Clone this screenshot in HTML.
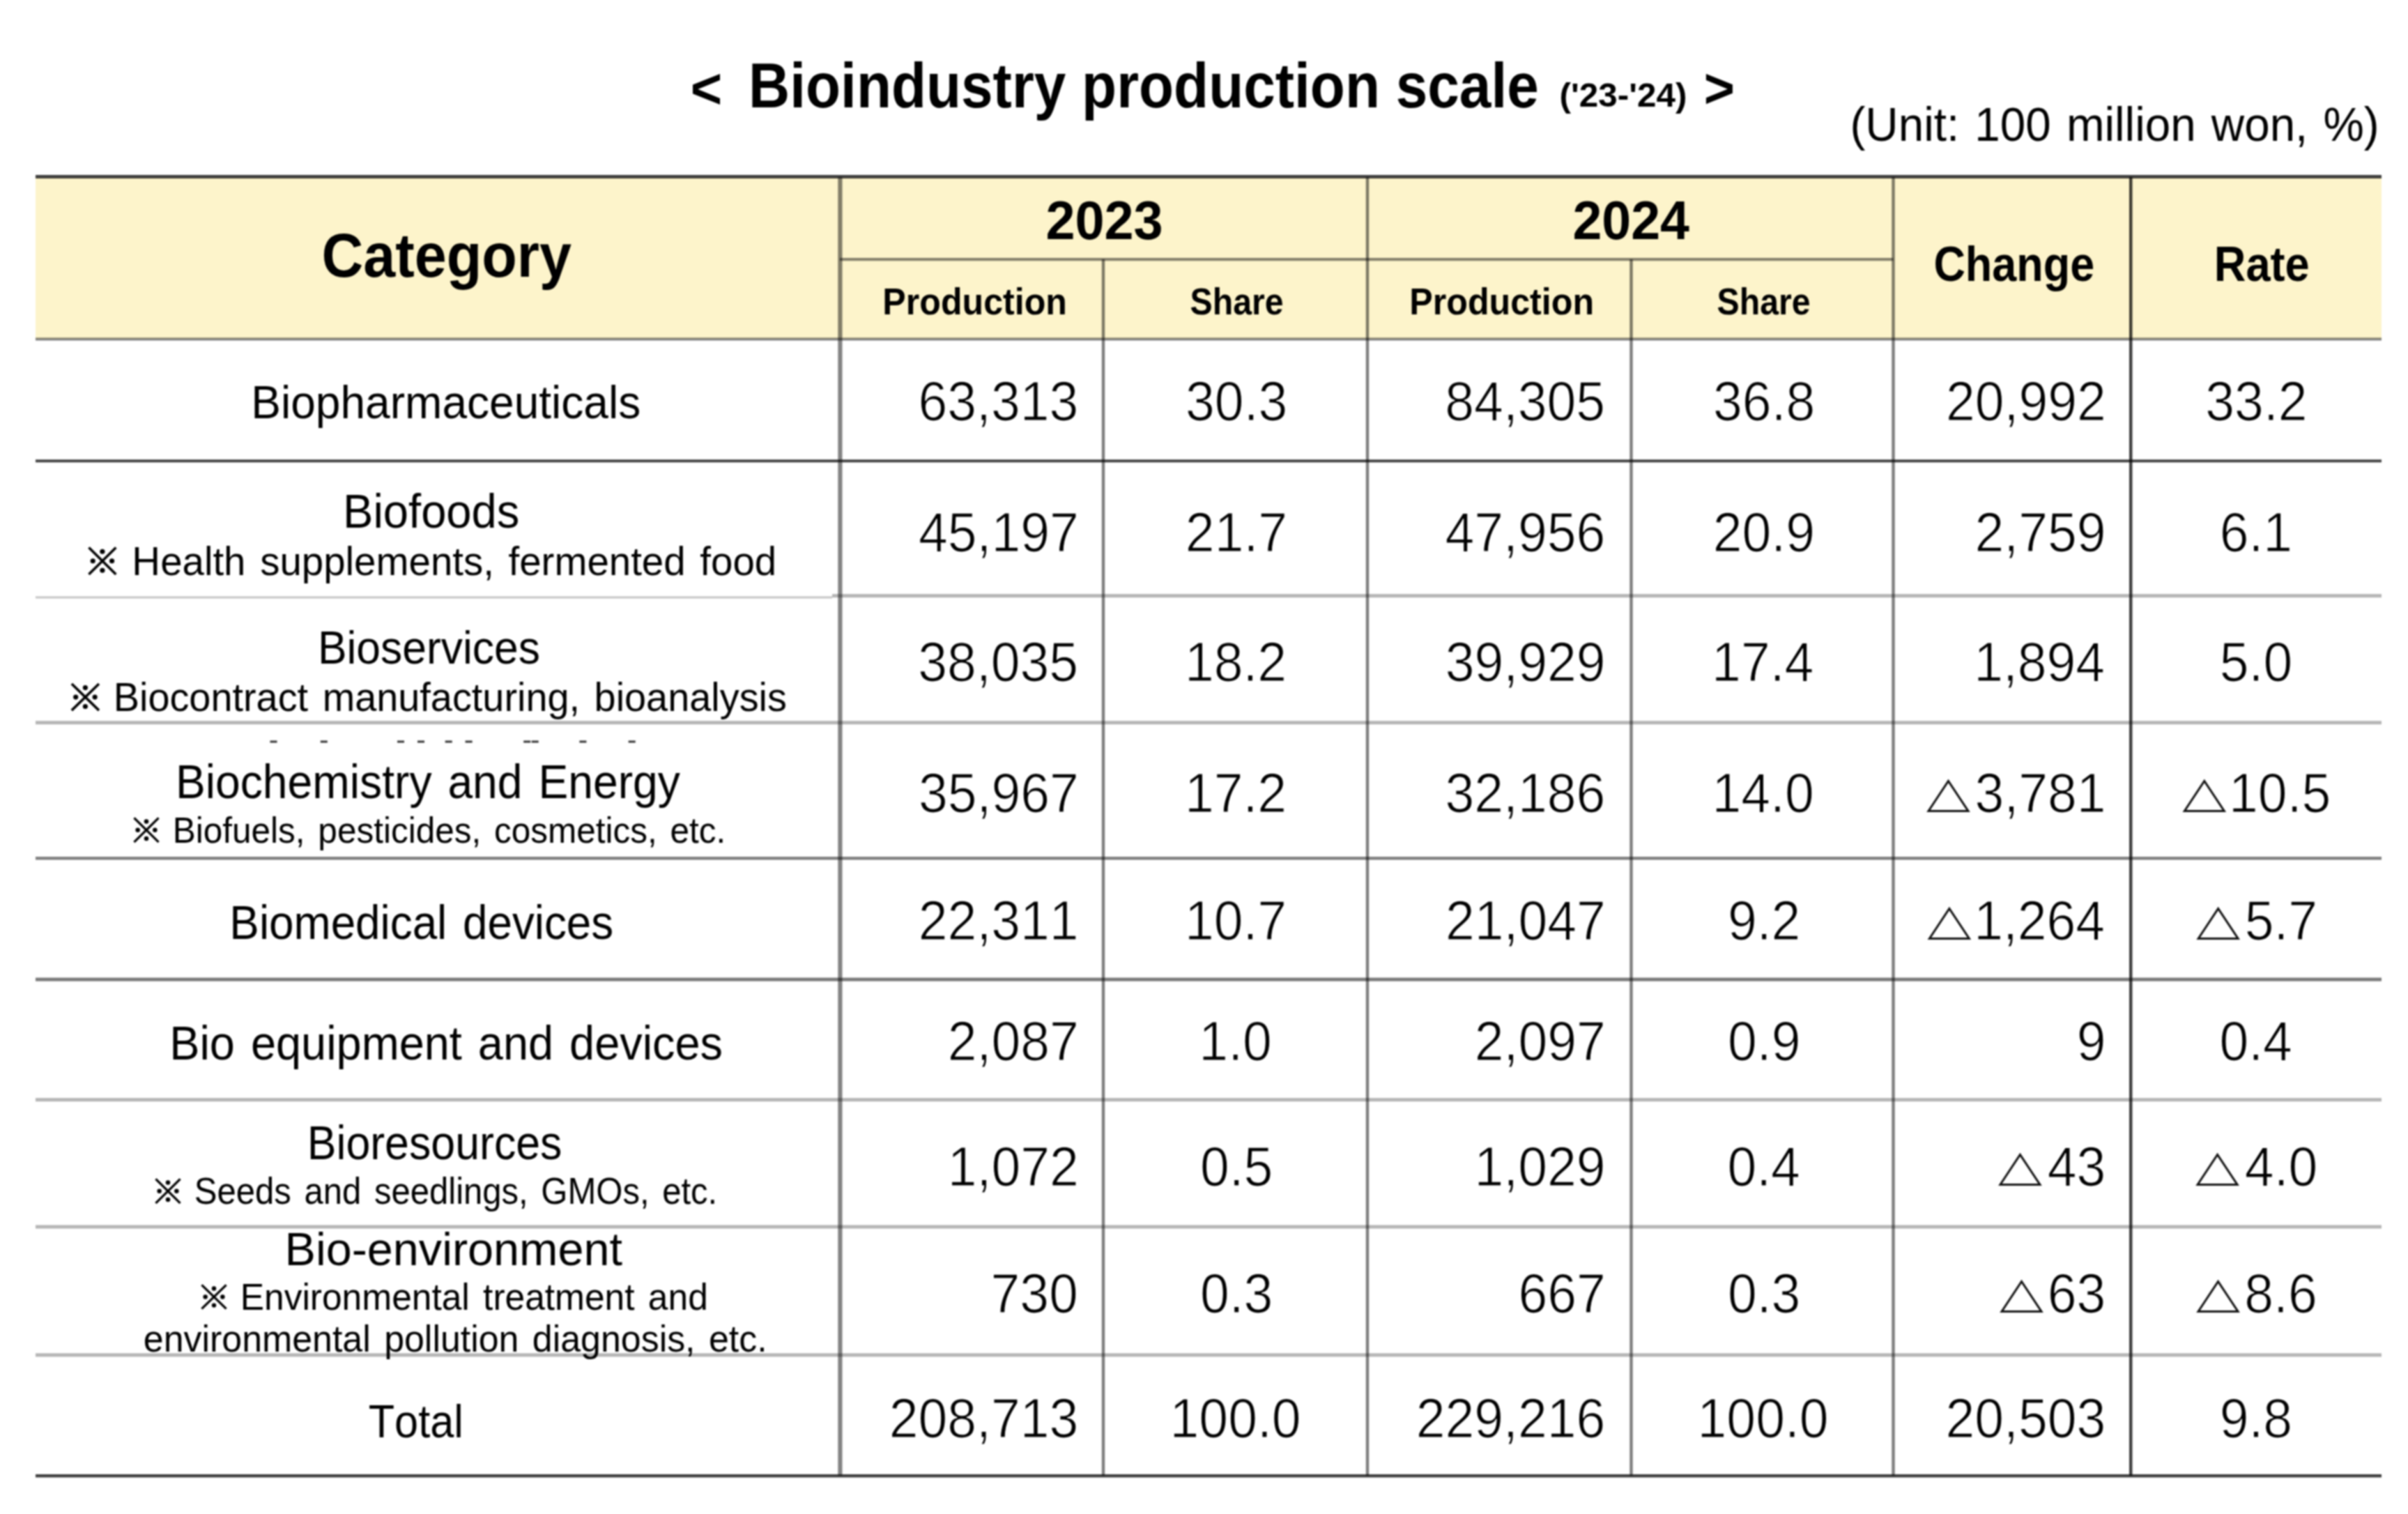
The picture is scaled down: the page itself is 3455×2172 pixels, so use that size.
<!DOCTYPE html>
<html><head><meta charset="utf-8"><title>Bioindustry production scale</title>
<style>
html,body{margin:0;padding:0;background:#fff;}
svg{display:block;filter:blur(0.9px);}
.m{mix-blend-mode:multiply;}
text{font-family:"Liberation Sans",sans-serif;fill:#000;font-kerning:none;font-variant-ligatures:none;}
</style></head><body>
<svg width="3455" height="2172" viewBox="0 0 3455 2172">
<rect x="0" y="0" width="3455" height="2172" fill="#fff"/>
<rect x="51.00" y="255.00" width="3366.00" height="231.00" fill="#fdf4cb"/>
<rect class="m" x="51.00" y="251.00" width="3366.00" height="5.00" fill="#404040"/>
<rect class="m" x="1205.00" y="370.00" width="1511.50" height="4.20" fill="#878787"/>
<rect class="m" x="51.00" y="484.50" width="3366.00" height="4.00" fill="#848484"/>
<rect class="m" x="51.00" y="659.30" width="3366.00" height="4.00" fill="#414141"/>
<rect class="m" x="51.00" y="855.50" width="1143.00" height="3.00" fill="#c4c4c4"/>
<rect class="m" x="1194.00" y="852.20" width="2223.00" height="5.00" fill="#b5b5b5"/>
<rect class="m" x="51.00" y="1034.20" width="3366.00" height="5.00" fill="#b5b5b5"/>
<rect class="m" x="51.00" y="1229.10" width="3366.00" height="4.40" fill="#7e7e7e"/>
<rect class="m" x="51.00" y="1402.60" width="3366.00" height="5.00" fill="#7a7a7a"/>
<rect class="m" x="51.00" y="1575.20" width="3366.00" height="5.00" fill="#b5b5b5"/>
<rect class="m" x="51.00" y="1757.50" width="3366.00" height="5.00" fill="#b5b5b5"/>
<rect class="m" x="51.00" y="1941.40" width="3366.00" height="5.00" fill="#b5b5b5"/>
<rect class="m" x="51.00" y="2115.00" width="3366.00" height="4.50" fill="#404040"/>
<rect class="m" x="1202.30" y="254.00" width="6.20" height="1863.00" fill="#838383"/>
<rect class="m" x="1959.80" y="254.00" width="4.40" height="1863.00" fill="#7e7e7e"/>
<rect class="m" x="2714.30" y="254.00" width="4.40" height="1863.00" fill="#7e7e7e"/>
<rect class="m" x="1580.80" y="372.00" width="4.40" height="1745.00" fill="#7e7e7e"/>
<rect class="m" x="2338.30" y="372.00" width="4.40" height="1745.00" fill="#7e7e7e"/>
<rect class="m" x="3055.00" y="254.00" width="4.50" height="1863.00" fill="#404040"/>
<rect x="387.50" y="1062.50" width="10.00" height="3.00" fill="#333"/>
<rect x="459.80" y="1062.50" width="10.00" height="3.00" fill="#333"/>
<rect x="570.00" y="1062.50" width="10.00" height="3.00" fill="#333"/>
<rect x="599.00" y="1062.50" width="10.00" height="3.00" fill="#333"/>
<rect x="638.70" y="1062.50" width="10.00" height="3.00" fill="#333"/>
<rect x="667.60" y="1062.50" width="10.00" height="3.00" fill="#333"/>
<rect x="751.20" y="1062.50" width="10.00" height="3.00" fill="#333"/>
<rect x="762.70" y="1062.50" width="10.00" height="3.00" fill="#333"/>
<rect x="831.40" y="1062.50" width="10.00" height="3.00" fill="#333"/>
<rect x="901.70" y="1062.50" width="10.00" height="3.00" fill="#333"/>
<text x="0" y="0" transform="translate(990.73 154.98) scale(0.9528 1)" font-size="81.62" font-weight="700">&lt;</text>
<text x="0" y="0" transform="translate(1074.12 153.60) scale(0.9093 1)" font-size="90.12" font-weight="700">Bioindustry production scale</text>
<text x="0" y="0" transform="translate(2237.54 152.80) scale(1.0309 1)" font-size="47.97" font-weight="700">(&#x27;23-&#x27;24)</text>
<text x="0" y="0" transform="translate(2444.82 153.87) scale(0.9500 1)" font-size="79.77" font-weight="700">&gt;</text>
<text x="0" y="0" transform="translate(2654.53 202.40) scale(0.9596 1)" font-size="68.32" word-spacing="4.168">(Unit: 100 million won, %)</text>
<text x="0" y="0" transform="translate(461.51 397.20) scale(0.9253 1)" font-size="89.39" font-weight="700">Category</text>
<text x="0" y="0" transform="translate(1500.38 343.00) scale(0.9642 1)" font-size="78.49" font-weight="700">2023</text>
<text x="0" y="0" transform="translate(2256.39 343.00) scale(0.9600 1)" font-size="78.49" font-weight="700">2024</text>
<text x="0" y="0" transform="translate(1266.35 451.00) scale(0.9372 1)" font-size="53.49" font-weight="700">Production</text>
<text x="0" y="0" transform="translate(1707.61 451.00) scale(0.9016 1)" font-size="53.49" font-weight="700">Share</text>
<text x="0" y="0" transform="translate(2022.24 451.00) scale(0.9383 1)" font-size="53.49" font-weight="700">Production</text>
<text x="0" y="0" transform="translate(2463.61 451.00) scale(0.9016 1)" font-size="53.49" font-weight="700">Share</text>
<text x="0" y="0" transform="translate(2774.42 402.50) scale(0.9019 1)" font-size="69.77" font-weight="700">Change</text>
<text x="0" y="0" transform="translate(3176.78 402.50) scale(0.9052 1)" font-size="69.77" font-weight="700">Rate</text>
<text x="0" y="0" transform="translate(360.24 599.80) scale(0.9479 1)" font-size="67.59">Biopharmaceuticals</text>
<text x="0" y="0" transform="translate(491.96 757.30) scale(0.9451 1)" font-size="68.90">Biofoods</text>
<path d="M127.46 785.56L166.34 823.94M166.34 785.56L127.46 823.94" stroke="#000" stroke-width="3.60" fill="none"/>
<circle cx="146.90" cy="791.25" r="3.60" fill="#000"/>
<circle cx="146.90" cy="818.25" r="3.60" fill="#000"/>
<circle cx="133.24" cy="804.75" r="3.60" fill="#000"/>
<circle cx="160.56" cy="804.75" r="3.60" fill="#000"/>
<text x="0" y="0" transform="translate(189.37 825.00) scale(0.9758 1)" font-size="57.85" word-spacing="5.124">Health supplements, fermented food</text>
<text x="0" y="0" transform="translate(455.88 951.80) scale(0.9331 1)" font-size="66.86">Bioservices</text>
<path d="M102.85 980.95L141.95 1019.15M141.95 980.95L102.85 1019.15" stroke="#000" stroke-width="3.58" fill="none"/>
<circle cx="122.40" cy="986.62" r="3.58" fill="#000"/>
<circle cx="122.40" cy="1013.48" r="3.58" fill="#000"/>
<circle cx="108.67" cy="1000.05" r="3.58" fill="#000"/>
<circle cx="136.13" cy="1000.05" r="3.58" fill="#000"/>
<text x="0" y="0" transform="translate(162.72 1019.60) scale(0.9854 1)" font-size="56.69" word-spacing="5.074">Biocontract manufacturing, bioanalysis</text>
<text x="0" y="0" transform="translate(251.93 1145.10) scale(0.9445 1)" font-size="68.02" word-spacing="5.294">Biochemistry and Energy</text>
<path d="M192.44 1173.34L227.56 1208.06M227.56 1173.34L192.44 1208.06" stroke="#000" stroke-width="3.26" fill="none"/>
<circle cx="210.00" cy="1178.49" r="3.26" fill="#000"/>
<circle cx="210.00" cy="1202.91" r="3.26" fill="#000"/>
<circle cx="197.66" cy="1190.70" r="3.26" fill="#000"/>
<circle cx="222.34" cy="1190.70" r="3.26" fill="#000"/>
<text x="0" y="0" transform="translate(247.74 1208.70) scale(0.9733 1)" font-size="50.87" word-spacing="5.137">Biofuels, pesticides, cosmetics, etc.</text>
<text x="0" y="0" transform="translate(329.37 1347.30) scale(0.9257 1)" font-size="68.90" word-spacing="5.401">Biomedical devices</text>
<text x="0" y="0" transform="translate(243.18 1519.80) scale(0.9598 1)" font-size="67.59" word-spacing="5.209">Bio equipment and devices</text>
<text x="0" y="0" transform="translate(440.66 1662.90) scale(0.9234 1)" font-size="67.88">Bioresources</text>
<path d="M223.44 1691.44L258.56 1726.16M258.56 1691.44L223.44 1726.16" stroke="#000" stroke-width="3.26" fill="none"/>
<circle cx="241.00" cy="1696.59" r="3.26" fill="#000"/>
<circle cx="241.00" cy="1721.01" r="3.26" fill="#000"/>
<circle cx="228.66" cy="1708.80" r="3.26" fill="#000"/>
<circle cx="253.34" cy="1708.80" r="3.26" fill="#000"/>
<text x="0" y="0" transform="translate(278.87 1727.30) scale(0.9169 1)" font-size="53.49" word-spacing="5.453">Seeds and seedlings, GMOs, etc.</text>
<text x="0" y="0" transform="translate(408.54 1814.60) scale(0.9867 1)" font-size="67.44">Bio-environment</text>
<path d="M289.42 1843.42L324.58 1877.68M324.58 1843.42L289.42 1877.68" stroke="#000" stroke-width="3.21" fill="none"/>
<circle cx="307.00" cy="1848.50" r="3.21" fill="#000"/>
<circle cx="307.00" cy="1872.60" r="3.21" fill="#000"/>
<circle cx="294.66" cy="1860.55" r="3.21" fill="#000"/>
<circle cx="319.34" cy="1860.55" r="3.21" fill="#000"/>
<text x="0" y="0" transform="translate(344.67 1878.80) scale(0.9708 1)" font-size="53.05" word-spacing="5.150">Environmental treatment and</text>
<text x="0" y="0" transform="translate(205.80 1938.60) scale(0.9783 1)" font-size="53.05" word-spacing="5.111">environmental pollution diagnosis, etc.</text>
<text x="0" y="0" transform="translate(528.73 2061.90) scale(0.9056 1)" font-size="67.59">Total</text>
<text x="0" y="0" transform="translate(1317.46 602.50) scale(0.9400 1)" font-size="79.94" stroke="#fff" stroke-width="1.20">63,313</text>
<text x="0" y="0" transform="translate(1701.09 602.50) scale(0.9400 1)" font-size="79.94" stroke="#fff" stroke-width="1.20">30.3</text>
<text x="0" y="0" transform="translate(2073.31 602.50) scale(0.9400 1)" font-size="79.94" stroke="#fff" stroke-width="1.20">84,305</text>
<text x="0" y="0" transform="translate(2458.07 602.50) scale(0.9400 1)" font-size="79.94" stroke="#fff" stroke-width="1.20">36.8</text>
<text x="0" y="0" transform="translate(2791.94 602.50) scale(0.9400 1)" font-size="79.94" stroke="#fff" stroke-width="1.20">20,992</text>
<text x="0" y="0" transform="translate(3164.33 602.50) scale(0.9400 1)" font-size="79.94" stroke="#fff" stroke-width="1.20">33.2</text>
<text x="0" y="0" transform="translate(1317.94 790.50) scale(0.9400 1)" font-size="79.94" stroke="#fff" stroke-width="1.20">45,197</text>
<text x="0" y="0" transform="translate(1700.87 790.50) scale(0.9400 1)" font-size="79.94" stroke="#fff" stroke-width="1.20">21.7</text>
<text x="0" y="0" transform="translate(2073.46 790.50) scale(0.9400 1)" font-size="79.94" stroke="#fff" stroke-width="1.20">47,956</text>
<text x="0" y="0" transform="translate(2457.76 790.50) scale(0.9400 1)" font-size="79.94" stroke="#fff" stroke-width="1.20">20.9</text>
<text x="0" y="0" transform="translate(2833.51 790.50) scale(0.9400 1)" font-size="79.94" stroke="#fff" stroke-width="1.20">2,759</text>
<text x="0" y="0" transform="translate(3184.69 790.50) scale(0.9400 1)" font-size="79.94" stroke="#fff" stroke-width="1.20">6.1</text>
<text x="0" y="0" transform="translate(1317.31 976.50) scale(0.9400 1)" font-size="79.94" stroke="#fff" stroke-width="1.20">38,035</text>
<text x="0" y="0" transform="translate(1699.90 976.50) scale(0.9400 1)" font-size="79.94" stroke="#fff" stroke-width="1.20">18.2</text>
<text x="0" y="0" transform="translate(2073.72 976.50) scale(0.9400 1)" font-size="79.94" stroke="#fff" stroke-width="1.20">39,929</text>
<text x="0" y="0" transform="translate(2456.11 976.50) scale(0.9400 1)" font-size="79.94" stroke="#fff" stroke-width="1.20">17.4</text>
<text x="0" y="0" transform="translate(2832.15 976.50) scale(0.9400 1)" font-size="79.94" stroke="#fff" stroke-width="1.20">1,894</text>
<text x="0" y="0" transform="translate(3184.73 976.50) scale(0.9400 1)" font-size="79.94" stroke="#fff" stroke-width="1.20">5.0</text>
<text x="0" y="0" transform="translate(1317.94 1164.50) scale(0.9400 1)" font-size="79.94" stroke="#fff" stroke-width="1.20">35,967</text>
<text x="0" y="0" transform="translate(1699.90 1164.50) scale(0.9400 1)" font-size="79.94" stroke="#fff" stroke-width="1.20">17.2</text>
<text x="0" y="0" transform="translate(2073.46 1164.50) scale(0.9400 1)" font-size="79.94" stroke="#fff" stroke-width="1.20">32,186</text>
<text x="0" y="0" transform="translate(2456.48 1164.50) scale(0.9400 1)" font-size="79.94" stroke="#fff" stroke-width="1.20">14.0</text>
<path d="M2766.98 1163.50L2795.48 1120.50L2823.98 1163.50Z" stroke="#111" stroke-width="3.00" fill="none" stroke-linejoin="miter"/>
<text x="0" y="0" transform="translate(2833.62 1164.50) scale(0.9400 1)" font-size="79.94" stroke="#fff" stroke-width="1.20">3,781</text>
<path d="M3134.31 1163.50L3162.81 1120.50L3191.31 1163.50Z" stroke="#111" stroke-width="3.00" fill="none" stroke-linejoin="miter"/>
<text x="0" y="0" transform="translate(3198.09 1164.50) scale(0.9400 1)" font-size="79.94" stroke="#fff" stroke-width="1.20">10.5</text>
<text x="0" y="0" transform="translate(1317.83 1347.50) scale(0.9400 1)" font-size="79.94" stroke="#fff" stroke-width="1.20">22,311</text>
<text x="0" y="0" transform="translate(1699.90 1347.50) scale(0.9400 1)" font-size="79.94" stroke="#fff" stroke-width="1.20">10.7</text>
<text x="0" y="0" transform="translate(2073.94 1347.50) scale(0.9400 1)" font-size="79.94" stroke="#fff" stroke-width="1.20">21,047</text>
<text x="0" y="0" transform="translate(2478.90 1347.50) scale(0.9400 1)" font-size="79.94" stroke="#fff" stroke-width="1.20">9.2</text>
<path d="M2768.38 1346.50L2796.88 1303.50L2825.38 1346.50Z" stroke="#111" stroke-width="3.00" fill="none" stroke-linejoin="miter"/>
<text x="0" y="0" transform="translate(2832.15 1347.50) scale(0.9400 1)" font-size="79.94" stroke="#fff" stroke-width="1.20">1,264</text>
<path d="M3154.16 1346.50L3182.66 1303.50L3211.16 1346.50Z" stroke="#111" stroke-width="3.00" fill="none" stroke-linejoin="miter"/>
<text x="0" y="0" transform="translate(3220.65 1347.50) scale(0.9400 1)" font-size="79.94" stroke="#fff" stroke-width="1.20">5.7</text>
<text x="0" y="0" transform="translate(1359.73 1520.50) scale(0.9400 1)" font-size="79.94" stroke="#fff" stroke-width="1.20">2,087</text>
<text x="0" y="0" transform="translate(1720.37 1520.50) scale(0.9400 1)" font-size="79.94" stroke="#fff" stroke-width="1.20">1.0</text>
<text x="0" y="0" transform="translate(2115.73 1520.50) scale(0.9400 1)" font-size="79.94" stroke="#fff" stroke-width="1.20">2,097</text>
<text x="0" y="0" transform="translate(2479.08 1520.50) scale(0.9400 1)" font-size="79.94" stroke="#fff" stroke-width="1.20">0.9</text>
<text x="0" y="0" transform="translate(2979.77 1520.50) scale(0.9400 1)" font-size="79.94" stroke="#fff" stroke-width="1.20">9</text>
<text x="0" y="0" transform="translate(3184.40 1520.50) scale(0.9400 1)" font-size="79.94" stroke="#fff" stroke-width="1.20">0.4</text>
<text x="0" y="0" transform="translate(1359.73 1700.50) scale(0.9400 1)" font-size="79.94" stroke="#fff" stroke-width="1.20">1,072</text>
<text x="0" y="0" transform="translate(1721.88 1700.50) scale(0.9400 1)" font-size="79.94" stroke="#fff" stroke-width="1.20">0.5</text>
<text x="0" y="0" transform="translate(2115.51 1700.50) scale(0.9400 1)" font-size="79.94" stroke="#fff" stroke-width="1.20">1,029</text>
<text x="0" y="0" transform="translate(2478.40 1700.50) scale(0.9400 1)" font-size="79.94" stroke="#fff" stroke-width="1.20">0.4</text>
<path d="M2869.94 1699.50L2898.44 1656.50L2926.94 1699.50Z" stroke="#111" stroke-width="3.00" fill="none" stroke-linejoin="miter"/>
<text x="0" y="0" transform="translate(2937.72 1700.50) scale(0.9400 1)" font-size="79.94" stroke="#fff" stroke-width="1.20">43</text>
<path d="M3153.10 1699.50L3181.60 1656.50L3210.10 1699.50Z" stroke="#111" stroke-width="3.00" fill="none" stroke-linejoin="miter"/>
<text x="0" y="0" transform="translate(3220.87 1700.50) scale(0.9400 1)" font-size="79.94" stroke="#fff" stroke-width="1.20">4.0</text>
<text x="0" y="0" transform="translate(1421.56 1882.50) scale(0.9400 1)" font-size="79.94" stroke="#fff" stroke-width="1.20">730</text>
<text x="0" y="0" transform="translate(1721.95 1882.50) scale(0.9400 1)" font-size="79.94" stroke="#fff" stroke-width="1.20">0.3</text>
<text x="0" y="0" transform="translate(2178.40 1882.50) scale(0.9400 1)" font-size="79.94" stroke="#fff" stroke-width="1.20">667</text>
<text x="0" y="0" transform="translate(2478.95 1882.50) scale(0.9400 1)" font-size="79.94" stroke="#fff" stroke-width="1.20">0.3</text>
<path d="M2872.03 1881.50L2900.53 1838.50L2929.03 1881.50Z" stroke="#111" stroke-width="3.00" fill="none" stroke-linejoin="miter"/>
<text x="0" y="0" transform="translate(2937.72 1882.50) scale(0.9400 1)" font-size="79.94" stroke="#fff" stroke-width="1.20">63</text>
<path d="M3154.05 1881.50L3182.55 1838.50L3211.05 1881.50Z" stroke="#111" stroke-width="3.00" fill="none" stroke-linejoin="miter"/>
<text x="0" y="0" transform="translate(3220.29 1882.50) scale(0.9400 1)" font-size="79.94" stroke="#fff" stroke-width="1.20">8.6</text>
<text x="0" y="0" transform="translate(1275.67 2062.00) scale(0.9400 1)" font-size="79.94" stroke="#fff" stroke-width="1.20">208,713</text>
<text x="0" y="0" transform="translate(1678.58 2062.00) scale(0.9400 1)" font-size="79.94" stroke="#fff" stroke-width="1.20">100.0</text>
<text x="0" y="0" transform="translate(2031.67 2062.00) scale(0.9400 1)" font-size="79.94" stroke="#fff" stroke-width="1.20">229,216</text>
<text x="0" y="0" transform="translate(2435.58 2062.00) scale(0.9400 1)" font-size="79.94" stroke="#fff" stroke-width="1.20">100.0</text>
<text x="0" y="0" transform="translate(2791.46 2062.00) scale(0.9400 1)" font-size="79.94" stroke="#fff" stroke-width="1.20">20,503</text>
<text x="0" y="0" transform="translate(3184.64 2062.00) scale(0.9400 1)" font-size="79.94" stroke="#fff" stroke-width="1.20">9.8</text>
</svg>
</body></html>
